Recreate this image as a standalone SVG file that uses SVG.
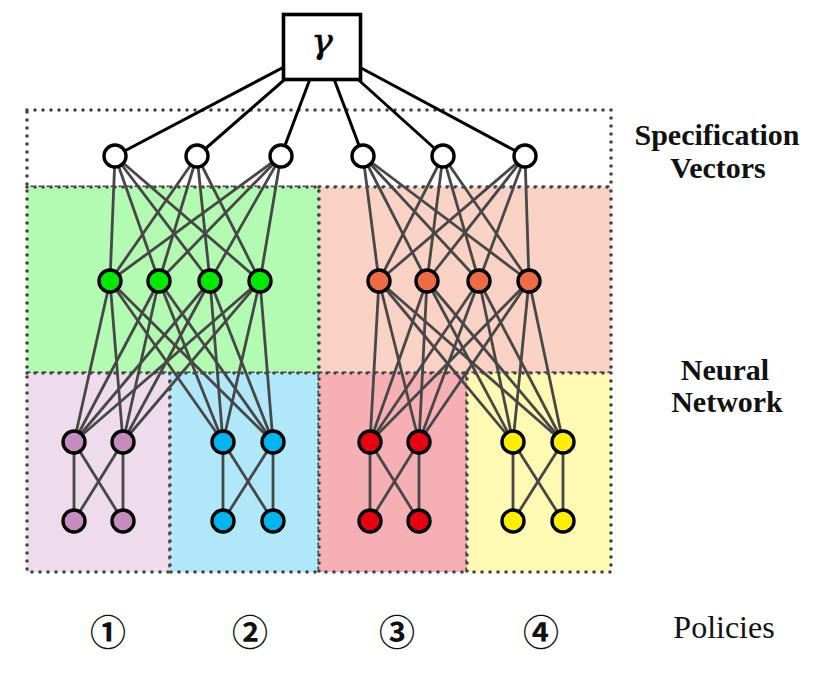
<svg xmlns="http://www.w3.org/2000/svg" width="840" height="676" viewBox="0 0 840 676">
<style>
.reg{stroke:#444;stroke-width:3.6;stroke-dasharray:0 8;stroke-linecap:round;}
.e line{stroke:#474747;stroke-width:2.8;}
.g line{stroke:#000;stroke-width:3;}
.n{stroke:#000;stroke-width:3.4;}
.lbl{font-family:"Liberation Serif",serif;font-weight:bold;font-size:30px;text-anchor:middle;fill:#111;}
.num{font-family:"Noto Sans CJK JP","DejaVu Sans",sans-serif;font-weight:bold;font-size:36px;text-anchor:middle;fill:#111;}
</style>
<rect width="840" height="676" fill="#fff"/>
<g id="regions">
<rect id="spec-box" class="reg" x="27" y="110" width="584" height="77" fill="none"/>
<rect id="green-region" class="reg" x="27" y="187" width="292" height="186" fill="#b3fbb3"/>
<rect id="pink-region" class="reg" x="319" y="187" width="292" height="186" fill="#f9d1c5"/>
<rect id="purple-region" class="reg" x="27" y="373" width="143" height="199" fill="#eedcec"/>
<rect id="blue-region" class="reg" x="170" y="373" width="149" height="199" fill="#b0e8f9"/>
<rect id="red-region" class="reg" x="319" y="373" width="148" height="199" fill="#f6b0b5"/>
<rect id="yellow-region" class="reg" x="467" y="373" width="144" height="199" fill="#fffab3"/>
</g>
<g id="connectors">
<g class="g">
<line x1="322" y1="47" x2="115" y2="156"/>
<line x1="322" y1="47" x2="197" y2="156"/>
<line x1="322" y1="47" x2="281" y2="156"/>
<line x1="322" y1="47" x2="363" y2="156"/>
<line x1="322" y1="47" x2="443" y2="156"/>
<line x1="322" y1="47" x2="525" y2="156"/>
</g>
<g class="e">
<line x1="115" y1="156" x2="110" y2="281"/><line x1="115" y1="156" x2="159" y2="281"/><line x1="115" y1="156" x2="210" y2="281"/><line x1="115" y1="156" x2="260" y2="281"/>
<line x1="197" y1="156" x2="110" y2="281"/><line x1="197" y1="156" x2="159" y2="281"/><line x1="197" y1="156" x2="210" y2="281"/><line x1="197" y1="156" x2="260" y2="281"/>
<line x1="281" y1="156" x2="110" y2="281"/><line x1="281" y1="156" x2="159" y2="281"/><line x1="281" y1="156" x2="210" y2="281"/><line x1="281" y1="156" x2="260" y2="281"/>
<line x1="363" y1="156" x2="379" y2="281"/><line x1="363" y1="156" x2="427" y2="281"/><line x1="363" y1="156" x2="479" y2="281"/><line x1="363" y1="156" x2="529" y2="281"/>
<line x1="443" y1="156" x2="379" y2="281"/><line x1="443" y1="156" x2="427" y2="281"/><line x1="443" y1="156" x2="479" y2="281"/><line x1="443" y1="156" x2="529" y2="281"/>
<line x1="525" y1="156" x2="379" y2="281"/><line x1="525" y1="156" x2="427" y2="281"/><line x1="525" y1="156" x2="479" y2="281"/><line x1="525" y1="156" x2="529" y2="281"/>
<line x1="110" y1="281" x2="74" y2="442"/><line x1="110" y1="281" x2="123" y2="442"/><line x1="110" y1="281" x2="223" y2="442"/><line x1="110" y1="281" x2="273" y2="442"/>
<line x1="159" y1="281" x2="74" y2="442"/><line x1="159" y1="281" x2="123" y2="442"/><line x1="159" y1="281" x2="223" y2="442"/><line x1="159" y1="281" x2="273" y2="442"/>
<line x1="210" y1="281" x2="74" y2="442"/><line x1="210" y1="281" x2="123" y2="442"/><line x1="210" y1="281" x2="223" y2="442"/><line x1="210" y1="281" x2="273" y2="442"/>
<line x1="260" y1="281" x2="74" y2="442"/><line x1="260" y1="281" x2="123" y2="442"/><line x1="260" y1="281" x2="223" y2="442"/><line x1="260" y1="281" x2="273" y2="442"/>
<line x1="379" y1="281" x2="370" y2="442"/><line x1="379" y1="281" x2="419" y2="442"/><line x1="379" y1="281" x2="513" y2="442"/><line x1="379" y1="281" x2="563" y2="442"/>
<line x1="427" y1="281" x2="370" y2="442"/><line x1="427" y1="281" x2="419" y2="442"/><line x1="427" y1="281" x2="513" y2="442"/><line x1="427" y1="281" x2="563" y2="442"/>
<line x1="479" y1="281" x2="370" y2="442"/><line x1="479" y1="281" x2="419" y2="442"/><line x1="479" y1="281" x2="513" y2="442"/><line x1="479" y1="281" x2="563" y2="442"/>
<line x1="529" y1="281" x2="370" y2="442"/><line x1="529" y1="281" x2="419" y2="442"/><line x1="529" y1="281" x2="513" y2="442"/><line x1="529" y1="281" x2="563" y2="442"/>
<line x1="74" y1="442" x2="74" y2="521"/><line x1="74" y1="442" x2="123" y2="521"/><line x1="123" y1="442" x2="74" y2="521"/><line x1="123" y1="442" x2="123" y2="521"/>
<line x1="223" y1="442" x2="223" y2="521"/><line x1="223" y1="442" x2="273" y2="521"/><line x1="273" y1="442" x2="223" y2="521"/><line x1="273" y1="442" x2="273" y2="521"/>
<line x1="370" y1="442" x2="370" y2="521"/><line x1="370" y1="442" x2="419" y2="521"/><line x1="419" y1="442" x2="370" y2="521"/><line x1="419" y1="442" x2="419" y2="521"/>
<line x1="513" y1="442" x2="513" y2="521"/><line x1="513" y1="442" x2="563" y2="521"/><line x1="563" y1="442" x2="513" y2="521"/><line x1="563" y1="442" x2="563" y2="521"/>
</g>
</g>
<g id="gamma">
<rect x="283.5" y="14.5" width="77" height="65" fill="#fff" stroke="#000" stroke-width="3.6"/>
<text x="322" y="53" font-family="'DejaVu Serif',serif" font-style="italic" font-size="36" text-anchor="middle" fill="#000" stroke="#000" stroke-width="0.6">γ</text>
</g>
<g id="spec-nodes" fill="#fff">
<circle id="s1" class="n" cx="115" cy="156" r="11"/>
<circle id="s2" class="n" cx="197" cy="156" r="11"/>
<circle id="s3" class="n" cx="281" cy="156" r="11"/>
<circle id="s4" class="n" cx="363" cy="156" r="11"/>
<circle id="s5" class="n" cx="443" cy="156" r="11"/>
<circle id="s6" class="n" cx="525" cy="156" r="11"/>
</g>
<g id="green-nodes" fill="#00e800">
<circle class="n" cx="110" cy="281" r="11"/>
<circle class="n" cx="159" cy="281" r="11"/>
<circle class="n" cx="210" cy="281" r="11"/>
<circle class="n" cx="260" cy="281" r="11"/>
</g>
<g id="orange-nodes" fill="#ee6c45">
<circle class="n" cx="379" cy="281" r="11"/>
<circle class="n" cx="427" cy="281" r="11"/>
<circle class="n" cx="479" cy="281" r="11"/>
<circle class="n" cx="529" cy="281" r="11"/>
</g>
<g id="purple-nodes" fill="#c58dbf">
<circle class="n" cx="74" cy="442" r="11"/>
<circle class="n" cx="123" cy="442" r="11"/>
<circle class="n" cx="74" cy="521" r="11"/>
<circle class="n" cx="123" cy="521" r="11"/>
</g>
<g id="blue-nodes" fill="#00b5ee">
<circle class="n" cx="223" cy="442" r="11"/>
<circle class="n" cx="273" cy="442" r="11"/>
<circle class="n" cx="223" cy="521" r="11"/>
<circle class="n" cx="273" cy="521" r="11"/>
</g>
<g id="red-nodes" fill="#e60012">
<circle class="n" cx="370" cy="442" r="11"/>
<circle class="n" cx="419" cy="442" r="11"/>
<circle class="n" cx="370" cy="521" r="11"/>
<circle class="n" cx="419" cy="521" r="11"/>
</g>
<g id="yellow-nodes" fill="#ffee00">
<circle class="n" cx="513" cy="442" r="11"/>
<circle class="n" cx="563" cy="442" r="11"/>
<circle class="n" cx="513" cy="521" r="11"/>
<circle class="n" cx="563" cy="521" r="11"/>
</g>
<g id="labels">
<text class="lbl" x="717" y="145">Specification</text>
<text class="lbl" x="718" y="178">Vectors</text>
<text class="lbl" x="725" y="380">Neural</text>
<text class="lbl" x="727" y="412">Network</text>
<text x="724" y="638" font-family="'Liberation Serif',serif" font-size="32" text-anchor="middle" fill="#111">Policies</text>
<text class="num" x="108" y="646">①</text>
<text class="num" x="250" y="646">②</text>
<text class="num" x="397" y="646">③</text>
<text class="num" x="541" y="646">④</text>
</g>
</svg>
